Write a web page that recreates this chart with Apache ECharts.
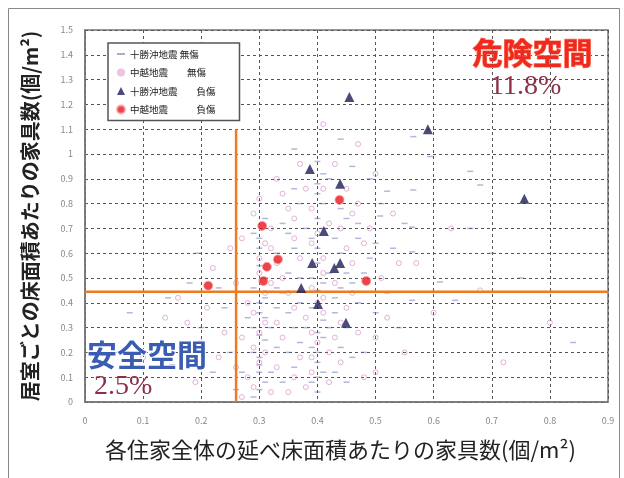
<!DOCTYPE html>
<html>
<head>
<meta charset="utf-8">
<script src="https://cdn.jsdelivr.net/npm/echarts@6/dist/echarts.min.js"></script>
<style>
  html, body { margin: 0; padding: 0; background: #fff; }
  #chart { width: 624px; height: 478px; }
</style>
</head>
<body>
<div id="chart"></div>
<script>
// Series names and the spaced text shown in the legend box
const seriesNames = ['十勝沖地震 無傷', '中越地震 無傷', '十勝沖地震 負傷', '中越地震 負傷'];
const legendLabels = ['十勝沖地震 無傷', '中越地震　　無傷', '十勝沖地震　　負傷', '中越地震　　　負傷'];

// Tick labels
const xTickLabels = ['0', '0.1', '0.2', '0.3', '0.4', '0.5', '0.6', '0.7', '0.8', '0.9'];
const yTickLabels = ['0', '0.1', '0.2', '0.3', '0.4', '0.5', '0.6', '0.7', '0.8', '0.9',
                     '1', '1.1', '1.2', '1.3', '1.4', '1.5'];

// [whole-house furniture density, room furniture density]
const tokachiUninjured = [
  [0.30,0.05],[0.30,0.12],[0.30,0.18],[0.31,0.25],[0.29,0.30],[0.30,0.36],[0.31,0.42],[0.30,0.55],[0.30,0.62],[0.29,0.68],
  [0.40,0.04],[0.40,0.10],[0.40,0.16],[0.39,0.22],[0.40,0.28],[0.41,0.33],[0.40,0.45],[0.39,0.50],[0.40,0.62],[0.40,0.74],
  [0.41,0.80],[0.40,0.88],[0.40,0.97],[0.34,0.08],[0.35,0.20],[0.36,0.30],[0.33,0.38],[0.37,0.40],[0.35,0.52],[0.36,0.62],
  [0.34,0.72],[0.37,0.80],[0.43,0.12],[0.44,0.22],[0.45,0.30],[0.43,0.42],[0.46,0.48],[0.44,0.60],[0.47,0.66],[0.45,0.74],
  [0.42,0.90],[0.46,0.95],[0.48,0.20],[0.50,0.36],[0.49,0.58],[0.52,0.44],[0.53,0.62],[0.55,0.72],[0.52,0.85],[0.565,0.855],
  [0.563,0.705],[0.563,0.605],[0.611,0.484],[0.563,0.41],[0.54,0.30],[0.22,0.12],[0.18,0.48],[0.20,0.30],[0.24,0.38],[0.15,0.15],
  [0.077,0.36],[0.143,0.42],[0.25,0.20],[0.26,0.05],[0.23,0.46],[0.594,0.99],[0.565,1.07],[0.663,0.93],[0.68,0.875],[0.663,0.70],
  [0.637,0.41],[0.508,0.75],[0.70,0.60],[0.75,0.50],[0.84,0.24],[0.36,1.02],[0.44,1.06],[0.194,0.60],
  [0.29,0.02],[0.31,0.08],[0.30,0.15],[0.29,0.20],[0.30,0.27],[0.31,0.34],[0.30,0.40],[0.29,0.46],[0.31,0.50],[0.30,0.66],
  [0.31,0.74],[0.32,0.12],[0.33,0.22],[0.32,0.30],[0.34,0.44],[0.33,0.60],[0.35,0.68],[0.36,0.14],[0.37,0.24],[0.38,0.30],
  [0.37,0.50],[0.38,0.70],[0.36,0.86],[0.39,0.08],[0.41,0.12],[0.40,0.20],[0.41,0.26],[0.39,0.38],[0.41,0.48],[0.40,0.56],
  [0.39,0.66],[0.41,0.70],[0.40,0.84],[0.41,0.92],[0.42,0.30],[0.43,0.36],[0.44,0.46],[0.42,0.52],[0.45,0.52],[0.43,0.66],
  [0.44,0.78],[0.46,0.18],[0.47,0.40],[0.48,0.52],[0.47,0.72],[0.50,0.64],[0.51,0.80],[0.49,0.90],[0.28,0.34],[0.27,0.12],
  [0.45,0.08],[0.35,0.36],[0.33,0.46]
];
const chuetsuUninjured = [
  [0.28,0.10],[0.29,0.22],[0.31,0.32],[0.28,0.40],[0.32,0.48],[0.30,0.58],[0.27,0.66],[0.32,0.70],
  [0.33,0.14],[0.34,0.26],[0.35,0.44],[0.33,0.56],[0.36,0.66],[0.35,0.78],[0.38,0.86],
  [0.38,0.06],[0.39,0.18],[0.38,0.34],[0.41,0.42],[0.39,0.64],[0.42,0.72],[0.41,0.52],
  [0.42,0.08],[0.44,0.16],[0.45,0.38],[0.46,0.56],[0.47,0.80],[0.45,0.86],[0.43,0.96],
  [0.48,0.10],[0.50,0.26],[0.51,0.50],[0.49,0.70],[0.53,0.76],[0.50,0.92],
  [0.27,0.02],[0.26,0.14],[0.24,0.28],[0.21,0.38],[0.19,0.08],[0.16,0.42],[0.10,0.18],[0.22,0.54],[0.25,0.62],
  [0.138,0.34],[0.176,0.32],[0.55,0.20],[0.57,0.56],[0.60,0.36],[0.63,0.70],[0.68,0.45],[0.72,0.16],[0.80,0.32],
  [0.30,0.82],[0.37,0.96],[0.41,1.12],[0.47,1.04],
  [0.29,0.06],[0.30,0.16],[0.31,0.20],[0.30,0.28],[0.29,0.36],[0.31,0.44],[0.30,0.52],[0.31,0.64],[0.29,0.76],
  [0.32,0.04],[0.33,0.32],[0.34,0.50],[0.32,0.62],[0.34,0.84],[0.36,0.10],[0.37,0.18],[0.36,0.38],[0.37,0.58],[0.36,0.74],
  [0.39,0.12],[0.40,0.24],[0.39,0.28],[0.41,0.36],[0.40,0.40],[0.39,0.46],[0.41,0.58],[0.40,0.68],[0.39,0.78],[0.41,0.86],
  [0.42,0.20],[0.43,0.26],[0.44,0.32],[0.43,0.48],[0.45,0.62],[0.44,0.70],[0.46,0.44],[0.47,0.28],[0.46,0.76],[0.48,0.64],
  [0.35,0.04],[0.27,0.26],[0.26,0.48],[0.23,0.18],[0.20,0.24],[0.52,0.34],[0.54,0.56],[0.50,0.12],[0.33,0.90]
];
const tokachiInjured = [
  [0.455,1.23],[0.590,1.10],[0.756,0.82],[0.387,0.94],[0.439,0.88],[0.411,0.69],
  [0.391,0.56],[0.439,0.56],[0.429,0.54],[0.372,0.46],[0.401,0.395],[0.449,0.32]
];
const chuetsuInjured = [
  [0.438,0.815],[0.305,0.71],[0.332,0.575],[0.313,0.545],[0.307,0.488],[0.212,0.469],[0.484,0.488]
];

// Threshold lines splitting safe / dangerous space
const thresholdX = 0.26;
const thresholdXTop = 1.1;
const thresholdY = 0.445;
const xMax = 0.9;

const FONT = '"Noto Sans CJK JP", "Noto Sans", sans-serif';
const SERIF = '"Liberation Serif", "DejaVu Serif", serif';
const ORANGE = '#ef7a1f';

function tickText(labels, v) {
  const i = Math.round(v * 10);
  return labels[i] !== undefined ? labels[i] : '';
}

const chart = echarts.init(document.getElementById('chart'), null, { renderer: 'canvas' });

chart.setOption({
  backgroundColor: '#ffffff',
  animation: false,
  grid: {
    left: 85, right: 16, top: 30, bottom: 76,
    show: true, borderColor: '#777', borderWidth: 1.5, backgroundColor: '#fff'
  },
  xAxis: {
    type: 'value', min: 0, max: 0.9, interval: 0.1,
    name: '各住家全体の延べ床面積あたりの家具数(個/m²)',
    nameLocation: 'middle', nameGap: 37,
    nameTextStyle: { fontFamily: FONT, fontSize: 22, color: '#222', padding: [0, 12, 0, 0] },
    axisLine: { show: true, lineStyle: { color: '#777', width: 1.5 } },
    axisTick: { show: false },
    axisLabel: { fontFamily: FONT, fontSize: 9, color: '#888', margin: 14,
      formatter: v => tickText(xTickLabels, v) },
    splitLine: { show: true, lineStyle: { color: '#555', width: 1, type: [3, 3] } }
  },
  yAxis: {
    type: 'value', min: 0, max: 1.5, interval: 0.1,
    name: '居室ごとの床面積あたりの家具数(個/m²)',
    nameLocation: 'middle', nameGap: 45, nameRotate: 90,
    nameTextStyle: { fontFamily: FONT, fontSize: 20, fontWeight: 'bold', color: '#222' },
    axisLine: { show: true, lineStyle: { color: '#777', width: 1.5 } },
    axisTick: { show: false },
    axisLabel: { fontFamily: FONT, fontSize: 9, color: '#888', margin: 12,
      formatter: v => tickText(yTickLabels, v) },
    splitLine: { show: true, lineStyle: { color: '#555', width: 1, type: [3, 3] } }
  },
  legend: {
    orient: 'vertical', left: 108, top: 43,
    backgroundColor: '#fff', borderColor: '#555', borderWidth: 1.5,
    padding: [5, 24, 5, 8],
    itemWidth: 8, itemHeight: 8, itemGap: 6.5, itemTextGap: 6,
    symbolKeepAspect: true,
    textStyle: { fontFamily: FONT, fontSize: 9.5, color: '#222', lineHeight: 12 },
    formatter: name => legendLabels[seriesNames.indexOf(name)],
    data: [
      { name: seriesNames[0], icon: 'path://M0,0h8v1.6h-8z', itemStyle: { color: '#7880b0' } },
      { name: seriesNames[1], icon: 'circle', itemStyle: { color: '#e8b4da', borderWidth: 0 } },
      { name: seriesNames[2], icon: 'triangle', itemStyle: { color: '#1e1e58' } },
      { name: seriesNames[3], icon: 'circle', itemStyle: { color: '#e8141c' } }
    ]
  },
  series: [
    {
      name: seriesNames[0], type: 'scatter', data: tokachiUninjured, z: 2,
      symbol: 'rect', symbolSize: [6, 1.5],
      itemStyle: { color: 'rgba(100,104,175,0.6)' }
    },
    {
      name: seriesNames[1], type: 'scatter', data: chuetsuUninjured, z: 2,
      symbol: 'circle', symbolSize: 5,
      itemStyle: { color: 'rgba(255,255,255,0)', borderColor: 'rgba(205,120,185,0.7)', borderWidth: 1 }
    },
    {
      name: 'threshold-x', type: 'line', z: 3, silent: true, symbol: 'none',
      data: [[thresholdX, 0], [thresholdX, thresholdXTop]],
      lineStyle: { color: ORANGE, width: 2.5 }
    },
    {
      name: 'threshold-y', type: 'line', z: 3, silent: true, symbol: 'none',
      data: [[0, thresholdY], [xMax, thresholdY]],
      lineStyle: { color: ORANGE, width: 2.5 }
    },
    {
      name: seriesNames[2], type: 'scatter', data: tokachiInjured, z: 5,
      symbol: 'triangle', symbolSize: 10,
      itemStyle: { color: '#1e1e58' }
    },
    {
      name: seriesNames[3], type: 'scatter', data: chuetsuInjured, z: 5,
      symbol: 'circle', symbolSize: 9,
      itemStyle: { color: '#e8141c', borderColor: '#f6a0a0', borderWidth: 1 }
    }
  ],
  graphic: [
    { type: 'rect', left: 6, top: 6, z: 100, silent: true,
      shape: { width: 611, height: 480 },
      style: { fill: 'none', stroke: '#888', lineWidth: 1 } },
    { type: 'text', left: 472, top: 37, z: 100,
      style: { text: '危険空間', fontFamily: FONT, fontSize: 30, fontWeight: 'bold',
        fill: '#ee2a1e', stroke: '#ff7a66', lineWidth: 1.2 } },
    { type: 'text', left: 490, top: 73, z: 100,
      style: { text: '11.8%', fontFamily: SERIF, fontSize: 28, fill: '#8a3048' } },
    { type: 'text', left: 86, top: 339, z: 100,
      style: { text: '安全空間', fontFamily: FONT, fontSize: 30, fontWeight: 'bold',
        fill: '#3a5cb2', stroke: '#ffffff', lineWidth: 2 } },
    { type: 'text', left: 94, top: 373, z: 100,
      style: { text: '2.5%', fontFamily: SERIF, fontSize: 28, fill: '#8a3048' } }
  ]
});
</script>
</body>
</html>
